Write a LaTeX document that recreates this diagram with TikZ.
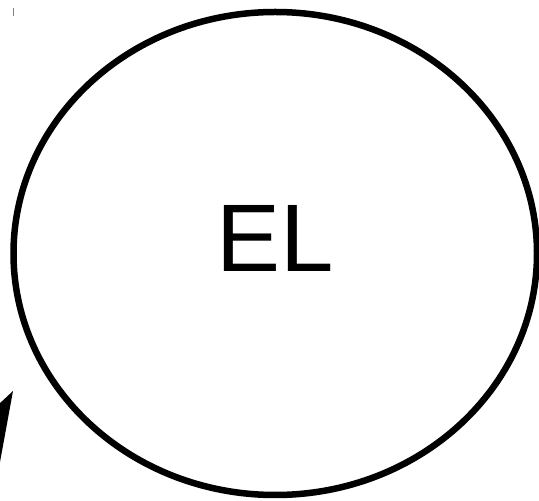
\documentclass[tikz,border=0pt]{standalone}
\usepackage{fontspec}
\setmainfont{Liberation Sans}
\usetikzlibrary{shapes.geometric}
\tikzset{
  bigell/.style={ellipse, draw=black, line width=6.5pt, inner sep=0pt,
    minimum width=523.5pt, minimum height=483pt},
  eltext/.style={font=\fontsize{96}{100}\selectfont, inner sep=0pt, anchor=base}
}
\begin{document}
\begin{tikzpicture}[x=1pt,y=1pt]
\useasboundingbox (0,0) rectangle (539,501);
\node[bigell] (el) at (275.25,247.5) {};
\node[eltext] (lbl) at (275,229) {EL};
\fill[black] (13,110) -- (-2,96) -- (-2,28) -- cycle;
\draw[gray, line width=1pt] (13.5,493) -- (13.5,485);
\end{tikzpicture}
\end{document}
